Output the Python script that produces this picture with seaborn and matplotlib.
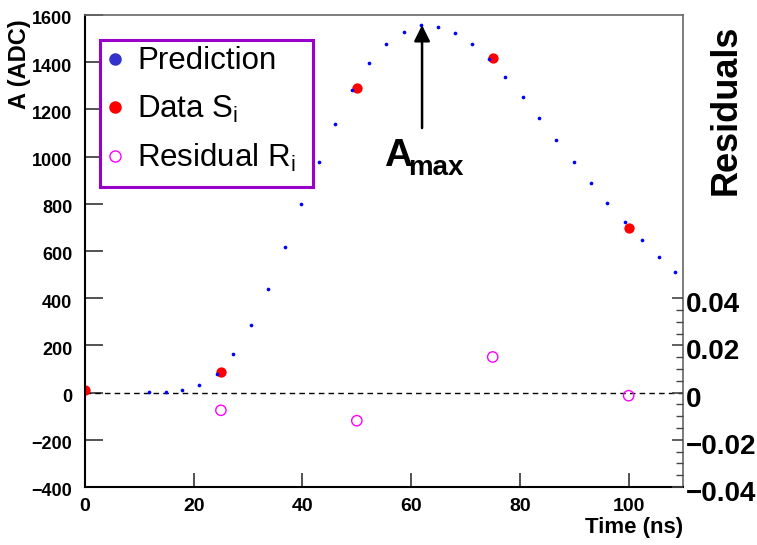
import matplotlib
matplotlib.use("Agg")
import matplotlib.pyplot as plt
import matplotlib.transforms as mtransforms
from matplotlib.lines import Line2D
from matplotlib.patches import Rectangle
from matplotlib.ticker import FixedLocator
import seaborn as sns
import pandas as pd

# ---------------- data ----------------
pred_t = [11.7, 14.9, 17.9, 21.0, 24.2, 27.3, 30.5, 33.6, 36.7, 39.8, 43.0, 46.0,
          49.2, 52.2, 55.4, 58.6, 61.8, 64.9, 68.0, 71.1, 74.3, 77.3, 80.5, 83.6,
          86.7, 89.9, 93.0, 96.1, 99.3, 102.4, 105.5, 108.6]
pred_a = [1, 3, 10, 31, 79, 162, 285, 440, 617, 799, 976, 1138,
          1281, 1397, 1478, 1529, 1556, 1550, 1525, 1478, 1415, 1338, 1253, 1164,
          1070, 977, 888, 802, 721, 645, 574, 512]
data_t = [0, 25, 50, 75, 100]
data_a = [11, 87, 1292, 1419, 697]
res_t = [25, 50, 75, 100]
res_r = [-0.0075, -0.0119, 0.0151, -0.0013]
left_ticks = [-400, -200, 0, 200, 400, 600, 800, 1000, 1200, 1400, 1600]
bottom_ticks = [0, 20, 40, 60, 80, 100]
right_ticks = [-0.04, -0.02, 0, 0.02, 0.04]
right_tick_labels = ["\u22120.04", "\u22120.02", "0", "0.02", "0.04"]
legend_labels = ["Prediction", "Data S$_{\\mathregular{i}}$", "Residual R$_{\\mathregular{i}}$"]
amax_arrow = (62.0, 1121, 1557)  # x, tail y, head y

# ---------------- style ----------------
sns.set_style("ticks")
plt.rcParams["font.family"] = ["Liberation Sans", "DejaVu Sans"]
plt.rcParams["mathtext.default"] = "regular"
plt.rcParams["axes.unicode_minus"] = True
plt.rcParams["text.color"] = "black"
plt.rcParams["axes.labelcolor"] = "black"
plt.rcParams["xtick.color"] = "black"
plt.rcParams["ytick.color"] = "black"

fig = plt.figure(figsize=(7.57, 5.45), dpi=100)
ax = fig.add_axes([85 / 757, 1 - 487 / 545, 598 / 757, 472 / 545])

pred_df = pd.DataFrame({"t": pred_t, "a": pred_a})
data_df = pd.DataFrame({"t": data_t, "a": data_a})
res_df = pd.DataFrame({"t": res_t, "r": res_r})

ax.axhline(0, color="black", lw=1.0, ls=(0, (4, 3)), zorder=1)
sns.scatterplot(data=pred_df, x="t", y="a", ax=ax, color="#0000ff", s=7,
                linewidth=0, zorder=3)
sns.scatterplot(data=data_df, x="t", y="a", ax=ax, color="#ff0000", s=55,
                linewidth=0, zorder=2)

ax.set_xlim(0, 110)
ax.set_ylim(-400, 1600)
ax.xaxis.set_major_locator(FixedLocator(bottom_ticks))
ax.yaxis.set_major_locator(FixedLocator(left_ticks))
ax.set_xlabel("")
ax.set_ylabel("")
ax.tick_params(axis="y", direction="in", length=13, width=1.3, color="#444444",
               labelcolor="black", labelsize=13, pad=9)
ax.tick_params(axis="x", direction="in", length=10, width=1.3, color="#444444",
               labelcolor="black", labelsize=14, pad=8)
for lbl in ax.get_yticklabels() + ax.get_xticklabels():
    lbl.set_fontweight("bold")
for lbl in ax.get_yticklabels():
    lbl.set_transform(lbl.get_transform() + mtransforms.ScaledTranslation(0, -3 / 100, fig.dpi_scale_trans))
ax.spines["left"].set_linewidth(1.5)
ax.spines["bottom"].set_linewidth(1.5)
ax.spines["left"].set_color("black")
ax.spines["bottom"].set_color("black")
ax.spines["top"].set_color("#666666")
ax.spines["right"].set_color("#666666")
ax.spines["top"].set_linewidth(1.2)
ax.spines["right"].set_linewidth(1.2)

# ---------------- residual axis ----------------
ax2 = ax.twinx()
sns.scatterplot(data=res_df, x="t", y="r", ax=ax2, marker="o", s=55,
                facecolor="none", edgecolor="#ff00ff", linewidth=1.0, zorder=4)
ax2.set_ylim(-0.04, 0.16)
ax2.set_xlim(0, 110)
ax2.set_ylabel("")
ax2.yaxis.set_major_locator(FixedLocator(right_ticks))
ax2.set_yticklabels(right_tick_labels)
ax2.yaxis.set_minor_locator(FixedLocator([-0.035, -0.03, -0.025, -0.015, -0.01, -0.005,
                                          0.005, 0.01, 0.015, 0.025, 0.03, 0.035]))
ax2.tick_params(axis="y", which="major", direction="in", length=8, width=1.2,
                color="#444444", labelcolor="black", labelsize=20, pad=2)
ax2.tick_params(axis="y", which="minor", direction="in", length=5, width=1.0,
                color="#444444")
for lbl in ax2.get_yticklabels():
    lbl.set_fontweight("bold")
    lbl.set_transform(lbl.get_transform() + mtransforms.ScaledTranslation(0, -4 / 100, fig.dpi_scale_trans))
for sp in ax2.spines.values():
    sp.set_visible(False)

# ---------------- annotations ----------------
ax.annotate("", xy=(amax_arrow[0], amax_arrow[2]), xytext=(amax_arrow[0], amax_arrow[1]),
            arrowprops=dict(arrowstyle="-|>", lw=1.8, color="black", mutation_scale=24,
                            shrinkA=0, shrinkB=0), zorder=5)
ax.text(55.0, 960, "A", fontsize=28, fontweight="bold", ha="left", va="baseline")
ax.text(59.4, 922, "max", fontsize=20, fontweight="bold", ha="left", va="baseline")

# ---------------- legend ----------------
box = Rectangle((0.025, 0.636), 0.356, 0.311, transform=ax.transAxes,
                facecolor="white", edgecolor="#9a00cc", linewidth=2.2, zorder=9)
ax2.add_patch(box)
handles = [
    Line2D([], [], ls="none", marker="o", markersize=8, markerfacecolor="#3333cc",
           markeredgecolor="#3333cc"),
    Line2D([], [], ls="none", marker="o", markersize=8, markerfacecolor="#ff0000",
           markeredgecolor="#ff0000"),
    Line2D([], [], ls="none", marker="o", markersize=8, markerfacecolor="none",
           markeredgecolor="#ff00ff", markeredgewidth=1.0),
]
leg = ax2.legend(handles, legend_labels, loc="upper left", bbox_to_anchor=(0.03, 0.94),
                 fontsize=22.5, frameon=False, borderpad=0.1,
                 labelspacing=0.55, handlelength=0.6, handletextpad=0.4,
                 borderaxespad=0)
leg.set_zorder(10)

# ---------------- axis titles ----------------
fig.text(20 / 757, 1 - 64 / 545, "A (ADC)", rotation=90, fontsize=17, fontweight="bold",
         ha="center", va="center")
fig.text(683 / 757, 1 - 528 / 545, "Time (ns)", fontsize=16, fontweight="bold",
         ha="right", va="center")
fig.text(726 / 757, 1 - 110 / 545, "Residuals", rotation=90, fontsize=26, fontweight="bold",
         ha="center", va="center")

fig.savefig("out.png", dpi=100)
